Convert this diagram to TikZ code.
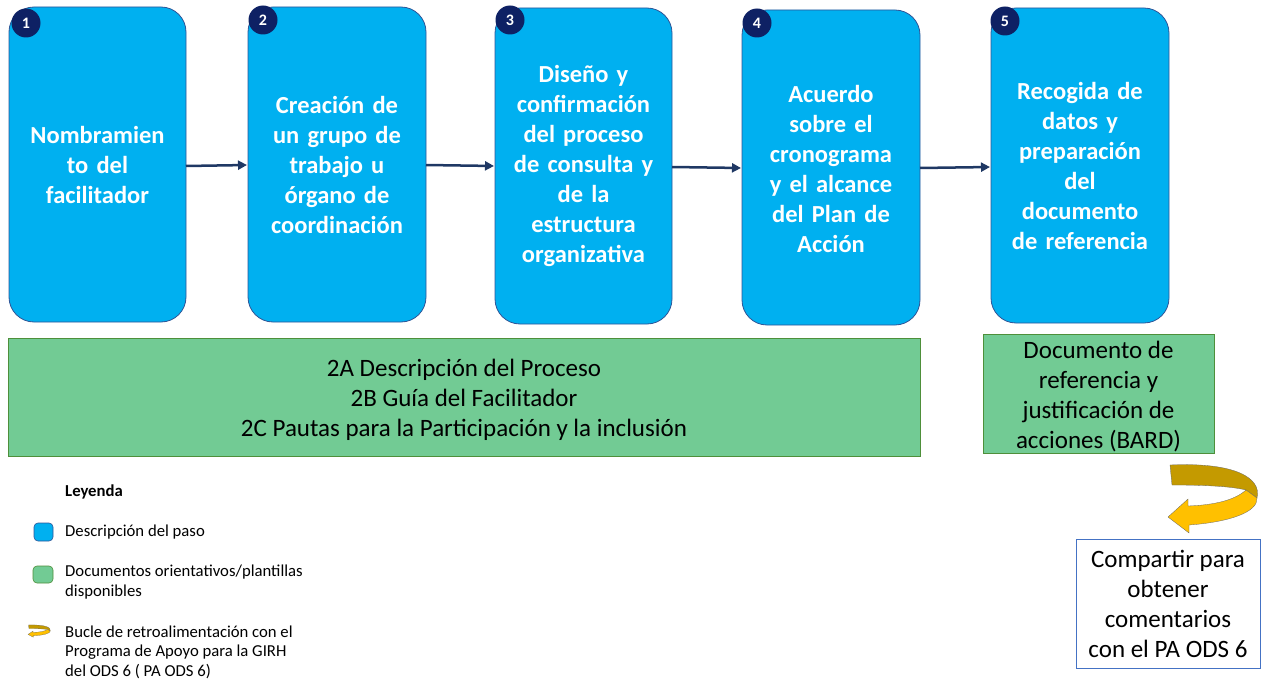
\documentclass[tikz,border=0pt]{standalone}
\usepackage{fontspec}
\setmainfont{Carlito}
\usetikzlibrary{arrows.meta}
\definecolor{stepblue}{HTML}{00B0F0}
\definecolor{stepedge}{HTML}{2F5597}
\definecolor{navy}{HTML}{0E2164}
\definecolor{arrowc}{HTML}{1F3864}
\definecolor{docgreen}{HTML}{72CB94}
\definecolor{docedge}{HTML}{4E8F3A}
\definecolor{gold}{HTML}{FFC000}
\definecolor{darkgold}{HTML}{C49A00}
\definecolor{boxblue}{HTML}{4472C4}
\tikzset{
  stepbox/.style={draw=stepedge, line width=0.8pt, fill=stepblue, rounded corners=25pt},
  steptext/.style={text=white, font=\fontsize{24.5}{30}\selectfont\bfseries, align=center, text width=170pt, inner sep=0pt},
  badge/.style={circle, fill=navy, minimum size=29pt, inner sep=0pt, text=white, font=\fontsize{16}{16}\selectfont\bfseries},
  flow/.style={draw=arrowc, line width=2.5pt, -{Triangle[length=9pt,width=9pt]}, shorten >=1pt},
  docbox/.style={draw=docedge, line width=0.8pt, fill=docgreen},
  doctext/.style={font=\fontsize{25}{30}\selectfont, align=center, inner sep=0pt, text=black},
  legtext/.style={font=\fontsize{16.7}{19.5}\selectfont, align=left, anchor=west, inner sep=0pt, text=black},
}
\begin{document}
\begin{tikzpicture}[x=1pt, y=-1pt]
\useasboundingbox (0,0) rectangle (1261,682);
% step boxes
\draw[stepbox] (9,7) rectangle (186,322);
\node[steptext] (t1) at (97.5,165) {Nombramien\\to del\\facilitador};
\draw[stepbox] (248,7) rectangle (426,322);
\node[steptext] (t2) at (337,165) {Creación de\\un grupo de\\trabajo u\\órgano de\\coordinación};
\draw[stepbox] (495,8) rectangle (672,324);
\node[steptext] (t3) at (583.5,166) {Diseño y\\confirmación\\del proceso\\de consulta y\\de la\\estructura\\organizativa};
\draw[stepbox] (742,10) rectangle (920,325);
\node[steptext] (t4) at (831,169) {Acuerdo\\sobre el\\cronograma\\y el alcance\\del Plan de\\Acción};
\draw[stepbox] (991,8) rectangle (1169,323);
\node[steptext] (t5) at (1080,165.5) {Recogida de\\datos y\\preparación\\del\\documento\\de referencia};
% badges
\node[badge] (n1) at (26,23) {1};
\node[badge] (n2) at (263,20) {2};
\node[badge] (n3) at (510,20) {3};
\node[badge] (n4) at (757,23) {4};
\node[badge] (n5) at (1005,21) {5};
% connectors
\coordinate (o1) at (186,166); \coordinate (i2) at (248,165);
\coordinate (o2) at (426,165); \coordinate (i3) at (495,166);
\coordinate (o3) at (672,167); \coordinate (i4) at (742,168);
\coordinate (o4) at (920,168); \coordinate (i5) at (991,167);
\draw[flow] (o1) -- (i2);
\draw[flow] (o2) -- (i3);
\draw[flow] (o3) -- (i4);
\draw[flow] (o4) -- (i5);
% document boxes
\draw[docbox] (8,338) rectangle (920,456);
\node[doctext] (d1) at (464,400) {2A Descripción del Proceso\\2B Guía del Facilitador\\2C Pautas para la Participación y la inclusión};
\draw[docbox] (983,334) rectangle (1214,453);
\node[doctext] (d2) at (1098.5,397) {Documento de\\referencia y\\justificación de\\acciones (BARD)};
% feedback loop arrow
\begin{scope}[shift={(1168,465)}]
\fill[darkgold, draw=black!60, line width=0.3pt] (2,0) .. controls (67,-3) and (94,13) .. (89,33) -- (78,25) .. controls (62,21) and (32,20) .. (4,20) -- cycle;
\fill[gold, draw=black!60, line width=0.3pt] (78,25) .. controls (67,35) and (47,40) .. (20,41) -- (20,34) -- (0,52) -- (21,68) -- (21,60) .. controls (62,57) and (90,47) .. (89,33) -- cycle;
\end{scope}
% share box
\draw[draw=boxblue, line width=0.8pt, fill=white] (1076,539) rectangle (1260.5,668);
\node[doctext] (sh) at (1168,604) {Compartir para\\obtener\\comentarios\\con el PA ODS 6};
% legend
\node[legtext, font=\fontsize{16.7}{19}\selectfont\bfseries] (leg) at (65,492) {Leyenda};
\draw[draw=stepedge, line width=0.6pt, fill=stepblue, rounded corners=4pt] (34,523) rectangle (53,541);
\node[legtext] (l1) at (65,532) {Descripción del paso};
\draw[draw=docedge, line width=0.6pt, fill=docgreen, rounded corners=4pt] (33,566) rectangle (53,583);
\node[legtext] (l2) at (65,582) {Documentos orientativos/plantillas\\disponibles};
\begin{scope}[shift={(28,625)}, xscale=0.25, yscale=0.18]
\fill[darkgold, draw=black!60, line width=0.2pt] (2,0) .. controls (67,-3) and (94,13) .. (89,33) -- (78,25) .. controls (62,21) and (32,20) .. (4,20) -- cycle;
\fill[gold, draw=black!60, line width=0.2pt] (78,25) .. controls (67,35) and (47,40) .. (20,41) -- (20,34) -- (0,52) -- (21,68) -- (21,60) .. controls (62,57) and (90,47) .. (89,33) -- cycle;
\end{scope}
\node[legtext] (l3) at (65,652) {Bucle de retroalimentación con el\\Programa de Apoyo para la GIRH\\del ODS 6 ( PA ODS 6)};
\end{tikzpicture}
\end{document}
